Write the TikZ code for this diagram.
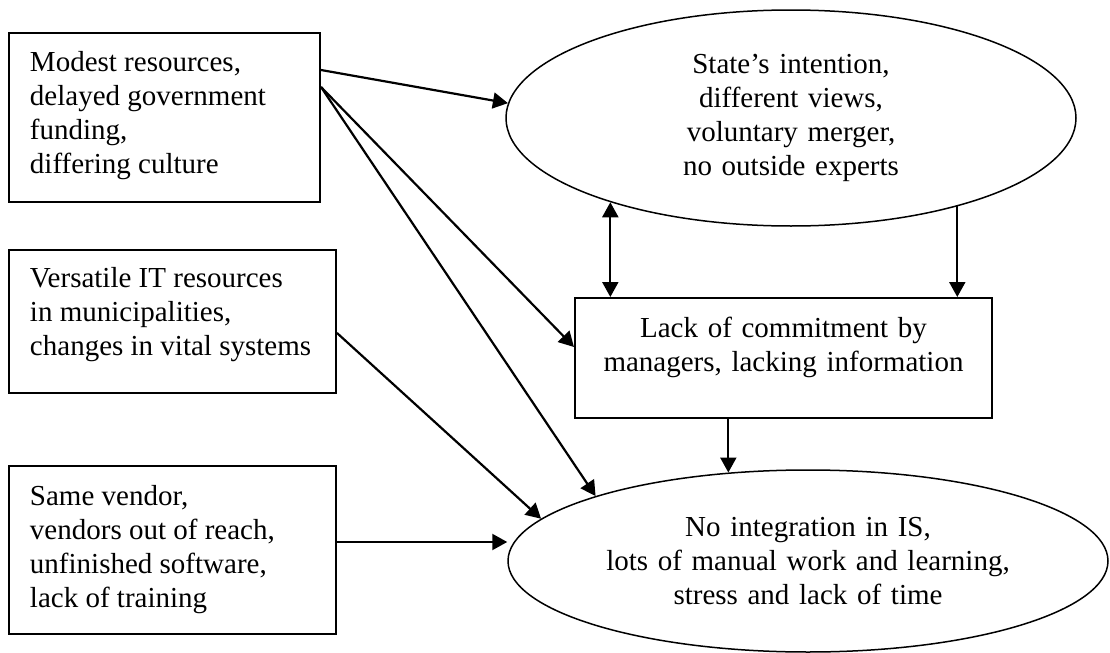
\documentclass[tikz,border=0pt]{standalone}
\usepackage{fontspec}
\setmainfont{Liberation Serif}
\usetikzlibrary{arrows.meta, shapes.geometric}

\begin{document}
\begin{tikzpicture}[x = 0.5pt, y = -0.5pt,
	every node/.style = {font = \fontsize{14.5pt}{17pt}\selectfont},
	factor/.style = {draw, line width = 1pt, inner xsep = 10.5pt, align = flush left},
	issue/.style = {draw, ellipse, line width = 0.75pt, inner sep = 0pt, align = center},
	link/.style = {line width = 1.1pt, -{Triangle[length = 7.5pt, width = 8pt]}}]

	\useasboundingbox (0, 0) rectangle (1110, 653);

	% Boxes on the left
	
	\node [factor, text width = 134.5pt, minimum height = 84.5pt] (funding) at (164.5, 117.5)
		{Modest resources,\\delayed government\\funding,\\differing culture\par\kern 2pt};
	\node [factor, text width = 142.5pt, minimum height = 71.5pt] (it) at (172.5, 321.5)
		{Versatile IT resources\\in municipalities,\\changes in vital systems\par\kern 7pt};
	\node [factor, text width = 142.5pt, minimum height = 84pt] (vendor) at (172.5, 550)
		{Same vendor,\\vendors out of reach,\\unfinished software,\\lack of training};
	
	% Ellipses and the middle box
	
	\node [issue, text width = 130pt, minimum width = 285pt, minimum height = 108pt] (state) at (791, 118)
		{State’s intention,\\different views,\\voluntary merger,\\no outside experts};
	\node [factor, align = center, text width = 187.5pt, minimum height = 60pt] (commit) at (783.5, 358)
		{Lack of commitment by\\managers, lacking information\par\kern 11pt};
	\node [issue, text width = 205pt, minimum width = 300pt, minimum height = 91pt] (result) at (808, 561)
		{No integration in IS,\\lots of manual work and learning,\\stress and lack of time};
	
	% Arrows
	
	\draw [link] ([yshift = 23.75pt] funding.east) -- (state.177);
	\draw [link] ([yshift = 15.25pt] funding.east) -- ([yshift = 5.5pt] commit.west);
	\draw [link] ([yshift = 15.25pt] funding.east) -- (result.163);
	\draw [link] ([yshift = -5.75pt] it.east) -- (result.171);
	\draw [link] ([yshift = 4pt] vendor.east) -- ([yshift = 4pt] vendor.east -| result.west);
	
	\draw [link, {Triangle[length = 7.5pt, width = 8pt]}-{Triangle[length = 7.5pt, width = 8pt]}]
		(state.205.5) -- (state.205.5 |- commit.north);
	\draw [link] (state.332.8) -- (state.332.8 |- commit.north);
	\draw [link] (commit.south -| result.132) -- (result.132);
	
\end{tikzpicture}
\end{document}
